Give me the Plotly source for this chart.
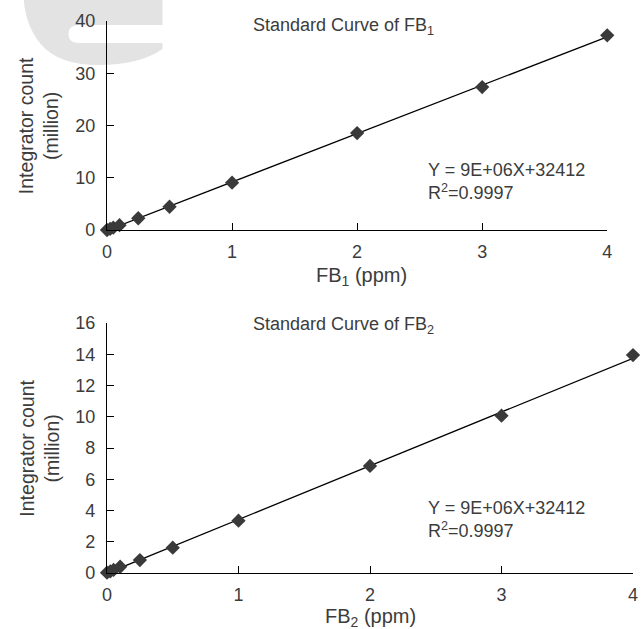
import numpy as np
import plotly.graph_objects as go

# ---- data ----
conc_ppm = [0, 0.025, 0.05, 0.1, 0.25, 0.5, 1, 2, 3, 4]
fb1_counts_million = [0.0, 0.22, 0.45, 0.92, 2.25, 4.45, 9.05, 18.55, 27.35, 37.25]
fb2_counts_million = [0.02, 0.1, 0.2, 0.4, 0.83, 1.62, 3.35, 6.85, 10.07, 13.95]
x_ticks = [0, 1, 2, 3, 4]
y_ticks_fb1 = [0, 10, 20, 30, 40]
y_ticks_fb2 = [0, 2, 4, 6, 8, 10, 12, 14, 16]
titles = ["Standard Curve of FB<sub>1</sub>", "Standard Curve of FB<sub>2</sub>"]
x_titles = ["FB<sub>1</sub> (ppm)", "FB<sub>2</sub> (ppm)"]
equation = "Y = 9E+06X+32412<br>R<sup>2</sup>=0.9997"

W, H = 642, 629
ML, MR, MT, MB = 107, 4, 21, 56
PW, PH = W - ML - MR, H - MT - MB


def px(x):
    return (x - ML) / PW


def py(y):
    return (H - MB - y) / PH


TEXT = "#3c3c3c"
FONT = "Liberation Sans"

fig = go.Figure()

for i, (yv, xa, ya) in enumerate([(fb1_counts_million, "x", "y"),
                                  (fb2_counts_million, "x2", "y2")]):
    slope, icpt = np.polyfit(conc_ppm, yv, 1)
    xl = [0, max(conc_ppm)]
    fig.add_trace(go.Scatter(x=xl, y=[icpt + slope * v for v in xl], mode="lines",
                             line=dict(color="black", width=1.3), xaxis=xa, yaxis=ya,
                             showlegend=False, hoverinfo="skip"))
    fig.add_trace(go.Scatter(x=conc_ppm, y=yv, mode="markers",
                             marker=dict(symbol="diamond", size=11, color="#3a3a3a"),
                             xaxis=xa, yaxis=ya, showlegend=False, cliponaxis=False))

axis_common = dict(showline=True, linecolor="black", linewidth=1.4, ticks="inside",
                   ticklen=7, tickwidth=1.3, tickcolor="black", showgrid=False,
                   zeroline=False, tickfont=dict(family=FONT, size=18, color=TEXT))

fig.update_layout(
    width=W, height=H, margin=dict(l=ML, r=MR, t=MT, b=MB),
    paper_bgcolor="white", plot_bgcolor="white",
    xaxis=dict(domain=[0, px(612)], range=[0, 4], tickvals=x_ticks, anchor="y",
               ticklabelstandoff=5, **axis_common),
    yaxis=dict(domain=[py(230), py(21)], range=[0, 40], tickvals=y_ticks_fb1, anchor="x",
               ticklabelstandoff=7, **axis_common),
    xaxis2=dict(domain=[0, 1], range=[0, 4], tickvals=x_ticks, anchor="y2",
                ticklabelstandoff=5, **axis_common),
    yaxis2=dict(domain=[py(573), py(323)], range=[0, 16], tickvals=y_ticks_fb2, anchor="x2",
                ticklabelstandoff=7, **axis_common),
)

# watermark shape (light gray partial logo)
pts = "M 23,0 L 163,0 L 163,25 L 79,25 Q 68,25 68,34 Q 68,43 79,43 L 163,43 L 163,49 " \
      "Q 140,65 98,65 Q 58,65 40,44 Q 25,26 23,0 Z"


def conv_path(p):
    out = []
    toks = p.replace(",", " ").split()
    i = 0
    while i < len(toks):
        t = toks[i]
        if t.isalpha():
            out.append(t)
            i += 1
        else:
            x, y = float(toks[i]), float(toks[i + 1])
            out.append(f"{px(x):.4f},{py(y):.4f}")
            i += 2
    return " ".join(out)


fig.add_shape(type="path", path=conv_path(pts), xref="paper", yref="paper",
              fillcolor="#e3e3e3", line=dict(width=0), layer="below")

ann = []
for i, (ty, xty, ycen, eqc) in enumerate([(26, 276, 125.5, 181.5), (325, 617, 448, 519)]):
    ann.append(dict(text=titles[i], x=px(252), y=py(ty), xref="paper", yref="paper",
                    xanchor="left", yanchor="middle", showarrow=False,
                    font=dict(family=FONT, size=18, color=TEXT)))
    ann.append(dict(text=x_titles[i], x=px(364 if i == 0 else 372.5), y=py(xty),
                    xref="paper", yref="paper", xanchor="center", yanchor="middle",
                    showarrow=False, font=dict(family=FONT, size=20, color=TEXT)))
    ann.append(dict(text="Integrator count<br>(million)", x=px(38), y=py(ycen),
                    xref="paper", yref="paper", xanchor="center", yanchor="middle",
                    textangle=-90, showarrow=False,
                    font=dict(family=FONT, size=19.5, color=TEXT)))
    ann.append(dict(text=equation, x=px(429), y=py(eqc), xref="paper", yref="paper",
                    xanchor="left", yanchor="middle", align="left", showarrow=False,
                    font=dict(family=FONT, size=18, color=TEXT)))
fig.update_layout(annotations=ann)

fig.write_html("out.html")
